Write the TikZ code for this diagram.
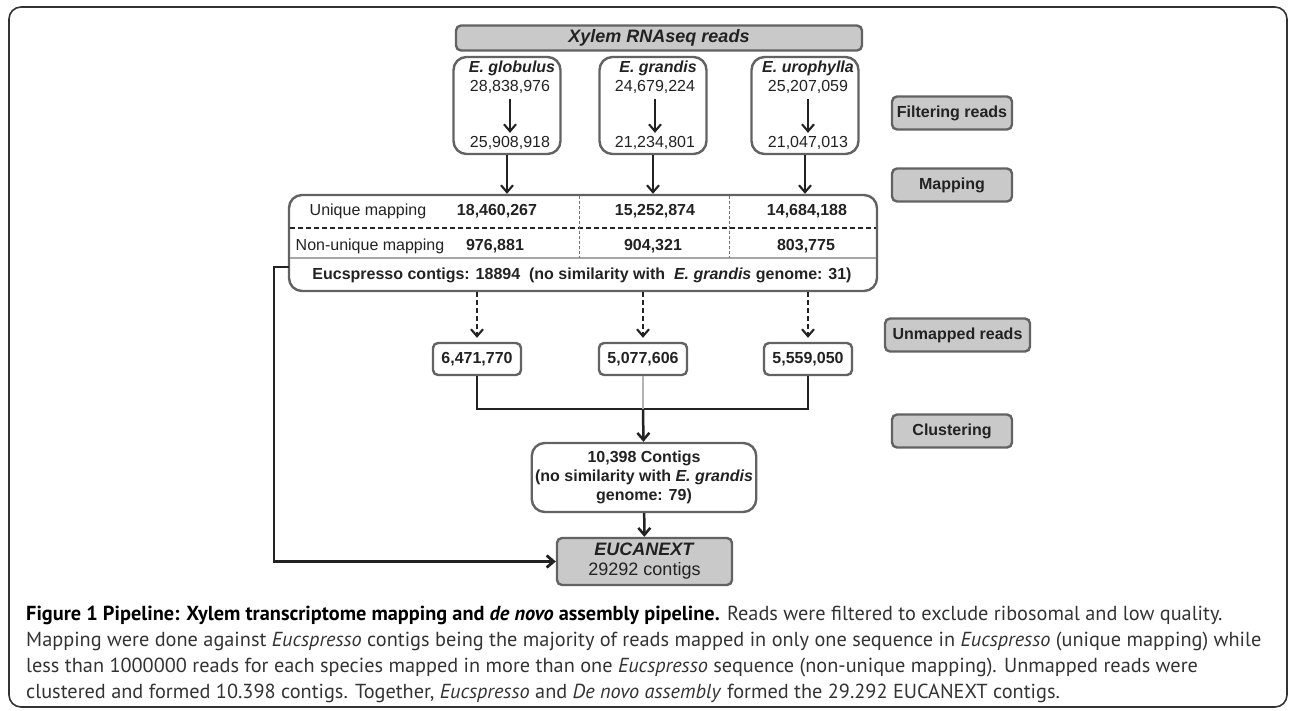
\documentclass[tikz,border=0pt]{standalone}
\usepackage{fontspec}
\setmainfont{Liberation Sans}
\newfontfamily\capfont{PT Sans}
\usetikzlibrary{arrows.meta}

\definecolor{boxfill}{HTML}{C9C9C9}
\definecolor{boxline}{HTML}{626262}
\definecolor{ink}{HTML}{222222}

\begin{document}
\begin{tikzpicture}[x=1pt, y=-1pt,
    every node/.style={text=ink},
    num/.style={font=\fontsize{16}{19}\selectfont},
    bnum/.style={font=\bfseries\fontsize{16}{19}\selectfont},
    spname/.style={font=\bfseries\itshape\fontsize{16}{19}\selectfont},
    stagebox/.style={draw=boxline, fill=boxfill, line width=2.4pt, rounded corners=5pt,
      bnum, minimum height=33pt, minimum width=120pt},
    speciesbox/.style={draw=boxline, line width=2.4pt, rounded corners=13pt,
      minimum width=107pt, minimum height=97pt},
    countbox/.style={draw=boxline, line width=2.4pt, rounded corners=5pt,
      bnum, minimum width=88pt, minimum height=32pt},
    flow/.style={draw=ink, line width=2.1pt, -{Straight Barb[length=7pt, width=12pt]}},
    dflow/.style={flow, dash pattern=on 5pt off 3pt},
    caption/.style={anchor=base west, inner sep=0pt, text=black!80,
      font=\capfont\fontsize{20.3}{24}\selectfont},
  ]
  \useasboundingbox (0,0) rectangle (1290,710);
  \draw[line width=1.6pt, draw=black!80, rounded corners=12pt] (9,7) rectangle (1287,707);

  % input reads
  \node[stagebox, minimum width=406pt, minimum height=25pt,
    font=\bfseries\itshape\fontsize{18}{20}\selectfont] (rna) at (659,38) {Xylem RNAseq reads};

  % the three species, raw and filtered reads
  \node[speciesbox] (glo) at (507,105.5) {};
  \node[speciesbox] (gra) at (653,105.5) {};
  \node[speciesbox] (uro) at (805,105.5) {};
  \node[spname] (gloname) at (512,68) {E. globulus};
  \node[spname] (graname) at (658,68) {E. grandis};
  \node[spname] (uroname) at (808,68) {E. urophylla};
  \node[num] (gloin) at (510,87) {28,838,976};
  \node[num] (grain) at (655,87) {24,679,224};
  \node[num] (uroin) at (808,87) {25,207,059};
  \node[num] (gloout) at (510,143) {25,908,918};
  \node[num] (graout) at (655,143) {21,234,801};
  \node[num] (uroout) at (808,143) {21,047,013};
  \draw[flow, shorten <=2pt] (gloin) -- (gloout);
  \draw[flow, shorten <=2pt] (grain) -- (graout);
  \draw[flow, shorten <=2pt] (uroin) -- (uroout);

  % mapping table
  \node[draw=boxline, line width=2.4pt, rounded corners=13pt,
    minimum width=588pt, minimum height=96pt] (map) at (583,243) {};
  \draw[draw=ink, line width=1.6pt, dash pattern=on 5pt off 3pt] (290,228) -- (876,228);
  \draw[draw=black!35, line width=1.5pt] (290,258) -- (876,258);
  \draw[draw=black!55, line width=0.8pt, dash pattern=on 3pt off 2pt] (579,196) -- (579,258);
  \draw[draw=black!55, line width=0.8pt, dash pattern=on 3pt off 2pt] (729,196) -- (729,258);
  \node[num] (uniq) at (368,211) {Unique mapping};
  \node[bnum] (uniqglo) at (497,211) {18,460,267};
  \node[bnum] (uniqgra) at (655,211) {15,252,874};
  \node[bnum] (uniquro) at (807,211) {14,684,188};
  \node[num] (nonu) at (370,246) {Non-unique mapping};
  \node[bnum] (nonuglo) at (495,246) {976,881};
  \node[bnum] (nonugra) at (653,246) {904,321};
  \node[bnum] (nonuuro) at (806,246) {803,775};
  \node[bnum] (eucs) at (582,275)
    {Eucspresso contigs: 18894\ \ (no similarity with\ \ \textit{E. grandis} genome: 31)};
  \draw[flow] (glo.south) -- (glo.south |- map.north);
  \draw[flow] (gra.south) -- (gra.south |- map.north);
  \draw[flow] (uro.south) -- (uro.south |- map.north);

  % unmapped reads
  \node[countbox] (un1) at (477,359) {6,471,770};
  \node[countbox] (un2) at (643,359) {5,077,606};
  \node[countbox] (un3) at (808,359) {5,559,050};
  \draw[dflow, shorten >=4pt] (map.south -| un1) -- (un1);
  \draw[dflow, shorten >=4pt] (map.south -| un2) -- (un2);
  \draw[dflow, shorten >=4pt] (map.south -| un3) -- (un3);

  % clustering and final set
  \coordinate (join) at (643,409);
  \node[draw=boxline, line width=2.4pt, rounded corners=13pt, minimum width=222pt,
    minimum height=69pt, align=center, bnum] (clus) at (644,477.5)
    {10,398 Contigs\\(no similarity with \textit{E. grandis}\\genome: 79)};
  \node[stagebox, minimum width=175pt, minimum height=47pt, align=center,
    font=\fontsize{18}{20}\selectfont] (euc) at (644.5,561.5)
    {\textbf{\textit{EUCANEXT}}\\29292 contigs};
  \draw[draw=ink, line width=2.5pt] (un1) |- (join) -| (un3);
  \draw[draw=black!30, line width=2.5pt] (un2) -- (join);
  \draw[flow, line width=2.5pt] (join) -- (clus);
  \draw[flow, line width=2.5pt] (clus) -- (euc);
  \coordinate (tap) at (289,267);
  \draw[flow, line width=2.8pt] (tap) -- ++(-15,0) |- (euc);

  % stage labels
  \node[stagebox] (filt) at (952,113) {Filtering reads};
  \node[stagebox] (mapl) at (952,185) {Mapping};
  \node[stagebox, minimum width=145pt] (unml) at (957.5,335) {Unmapped reads};
  \node[stagebox] (clul) at (952,431) {Clustering};

  % caption
  \node[caption] (cap1) at (26,620) {\textbf{\color{black}Figure 1 Pipeline: Xylem transcriptome mapping and \textit{de novo} assembly pipeline.} Reads were filtered to exclude ribosomal and low quality.};
  \node[caption] (cap2) at (26,646) {Mapping were done against \textit{Eucspresso} contigs being the majority of reads mapped in only one sequence in \textit{Eucspresso} (unique mapping) while};
  \node[caption] (cap3) at (26,672) {less than 1000000 reads for each species mapped in more than one \textit{Eucspresso} sequence (non-unique mapping). Unmapped reads were};
  \node[caption] (cap4) at (26,698) {clustered and formed 10.398 contigs. Together, \textit{Eucspresso} and \textit{De novo assembly} formed the 29.292 EUCANEXT contigs.};
\end{tikzpicture}
\end{document}
